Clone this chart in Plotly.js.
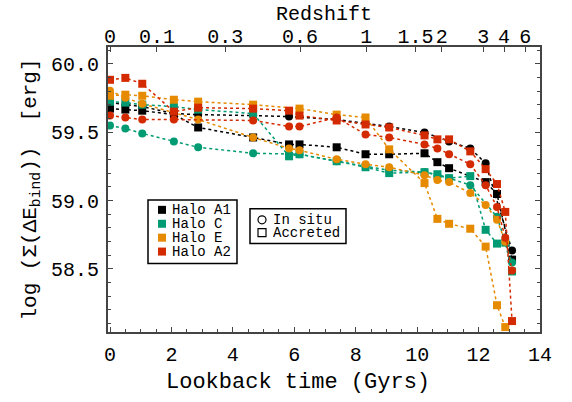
<!DOCTYPE html>
<html>
<head>
<meta charset="utf-8">
<script src="https://cdn.plot.ly/plotly-3.0.1.min.js"></script>
<style>html,body{margin:0;padding:0;background:#fff;}#chart{width:572px;height:402px;}</style>
</head>
<body>
<div id="chart"></div>
<script>
// ---- data (lookback time in Gyr, log binding energy in erg) ----
var a1InsituT = [0, 0.5, 1.05, 2.08, 2.87, 4.66, 5.83, 7.38, 8.32, 9.09, 10.24, 11.04, 11.73, 12.23, 13.09];
var a1InsituV = [59.717, 59.702, 59.688, 59.637, 59.629, 59.622, 59.615, 59.593, 59.564, 59.542, 59.499, 59.433, 59.382, 59.273, 58.634];
var a1AccT = [0, 0.5, 1.05, 2.08, 2.87, 4.66, 5.83, 6.17, 7.38, 8.32, 9.09, 10.24, 10.66, 11.04, 12.23, 12.6, 13.09];
var a1AccV = [59.673, 59.666, 59.658, 59.629, 59.535, 59.462, 59.411, 59.411, 59.390, 59.339, 59.339, 59.346, 59.281, 59.237, 59.135, 59.048, 58.568];

var cInsituT = [0, 0.5, 1.05, 2.08, 2.87, 4.66, 5.83, 6.17, 7.38, 8.32, 9.09, 10.24, 10.66, 11.04, 11.73, 12.6, 13.09];
var cInsituV = [59.549, 59.528, 59.491, 59.433, 59.390, 59.346, 59.339, 59.339, 59.288, 59.251, 59.222, 59.208, 59.186, 59.164, 59.113, 58.881, 58.547];
var cAccT = [0, 0.5, 1.05, 2.08, 2.87, 4.66, 5.83, 6.17, 7.38, 8.32, 9.09, 10.24, 10.66, 11.04, 11.73, 12.23, 12.6, 12.87, 13.09];
var cAccV = [59.724, 59.717, 59.702, 59.688, 59.666, 59.637, 59.324, 59.339, 59.288, 59.244, 59.201, 59.208, 59.193, 59.164, 59.179, 58.786, 58.685, 58.692, 58.481];

var eInsituT = [0, 0.5, 1.05, 2.87, 4.66, 5.83, 6.17, 7.38, 8.32, 9.09, 10.24, 10.66, 11.04, 11.73, 12.23, 12.6, 12.87];
var eInsituV = [59.804, 59.753, 59.709, 59.593, 59.462, 59.382, 59.368, 59.302, 59.266, 59.244, 59.186, 59.150, 59.135, 59.055, 58.968, 58.859, 58.699];
var eAccT = [0, 0.5, 1.05, 2.08, 2.87, 4.66, 6.17, 7.38, 8.32, 9.09, 10.24, 10.66, 11.04, 11.73, 12.23, 12.6, 12.87];
var eAccV = [59.767, 59.775, 59.767, 59.738, 59.724, 59.702, 59.673, 59.629, 59.608, 59.375, 59.128, 58.866, 58.830, 58.794, 58.663, 58.234, 58.074];

var a2InsituT = [0, 0.5, 1.05, 2.08, 4.66, 5.83, 6.17, 7.38, 8.32, 9.09, 10.24, 10.66, 11.04, 11.73, 12.23, 12.6, 12.87, 13.09];
var a2InsituV = [59.622, 59.608, 59.593, 59.593, 59.586, 59.542, 59.542, 59.608, 59.484, 59.462, 59.411, 59.382, 59.339, 59.266, 59.113, 58.953, 58.728, 58.488];
var a2AccT = [0, 0.5, 1.05, 2.08, 2.87, 4.66, 5.83, 6.17, 7.38, 8.32, 9.09, 10.24, 10.66, 11.04, 11.73, 12.23, 12.6, 12.87, 13.09];
var a2AccV = [59.884, 59.898, 59.855, 59.651, 59.680, 59.673, 59.658, 59.622, 59.586, 59.557, 59.535, 59.477, 59.448, 59.448, 59.360, 59.230, 59.121, 58.917, 58.118];

var haloNames = ['Halo A1', 'Halo C', 'Halo E', 'Halo A2'];
var haloColors = ['#000000', '#009B72', '#E68A00', '#D42A00'];

var xTickVals = [0, 2, 4, 6, 8, 10, 12, 14];
var zTickTimes = [0, 1.53, 3.75, 6.19, 8.34, 9.95, 10.8, 12.15, 12.83, 13.52];
var zTickText = ['0', '0.1', '0.3', '0.6', '1', '1.5', '2', '3', '4', '6'];
var yTickVals = [58.5, 59.0, 59.5, 60.0];

// ---- build ----
var FONT = '"Liberation Mono", "Courier New", monospace';
var series = [
  [a1InsituT, a1InsituV, 0, 'circle'], [a1AccT, a1AccV, 0, 'square'],
  [cInsituT, cInsituV, 1, 'circle'], [cAccT, cAccV, 1, 'square'],
  [eInsituT, eInsituV, 2, 'circle'], [eAccT, eAccV, 2, 'square'],
  [a2InsituT, a2InsituV, 3, 'circle'], [a2AccT, a2AccV, 3, 'square']
];
var traces = series.map(function (s) {
  return {
    x: s[0], y: s[1], type: 'scatter', mode: 'lines+markers',
    name: haloNames[s[2]] + (s[3] === 'circle' ? ' in situ' : ' accreted'),
    line: {color: haloColors[s[2]], width: 1.5, dash: 'dot'},
    marker: {color: haloColors[s[2]], symbol: s[3], size: 8},
    showlegend: false, hoverinfo: 'x+y'
  };
});
// invisible trace to activate the top (redshift) axis
traces.push({x: [0], y: [59], xaxis: 'x2', mode: 'markers', marker: {opacity: 0}, showlegend: false, hoverinfo: 'skip'});

var XR = [-0.065, 14];
var shapes = [], annotations = [];
// x-axis title (placed slightly left of centre, as in the reference)
annotations.push({xref: 'paper', yref: 'paper', x: 0.4387, y: -0.1777, xanchor: 'center', yanchor: 'middle',
  text: 'Lookback time (Gyrs)', showarrow: false, font: {family: FONT, size: 22, color: '#000'}});
// legend 1 (halos)
shapes.push({type: 'rect', xref: 'paper', yref: 'paper', x0: 0.0926, x1: 0.2986, y0: 0.2404, y1: 0.4634, line: {color: '#000', width: 1.5}, fillcolor: 'rgba(255,255,255,0)'});
var rowY = [0.4286, 0.3798, 0.3310, 0.2822];
haloNames.forEach(function (n, i) {
  shapes.push({type: 'rect', xref: 'paper', yref: 'paper', xsizemode: 'pixel', ysizemode: 'pixel',
    xanchor: 0.125, yanchor: rowY[i], x0: -4, x1: 4, y0: -4, y1: 4, fillcolor: haloColors[i], line: {width: 0}});
  annotations.push({xref: 'paper', yref: 'paper', x: 0.1458, y: rowY[i], xanchor: 'left', yanchor: 'middle',
    height: 13, borderpad: 0, text: n, showarrow: false, font: {family: FONT, size: 14, color: '#000'}});
});
// legend 2 (component)
shapes.push({type: 'rect', xref: 'paper', yref: 'paper', x0: 0.3287, x1: 0.5509, y0: 0.3101, y1: 0.4321, line: {color: '#000', width: 1.5}, fillcolor: 'rgba(255,255,255,0)'});
shapes.push({type: 'circle', xref: 'paper', yref: 'paper', xsizemode: 'pixel', ysizemode: 'pixel',
  xanchor: 0.3565, yanchor: 0.3937, x0: -4, x1: 4, y0: -4, y1: 4, line: {color: '#000', width: 1.2}});
shapes.push({type: 'rect', xref: 'paper', yref: 'paper', xsizemode: 'pixel', ysizemode: 'pixel',
  xanchor: 0.3565, yanchor: 0.3484, x0: -4, x1: 4, y0: -4, y1: 4, line: {color: '#000', width: 1.2}});
annotations.push({xref: 'paper', yref: 'paper', x: 0.3796, y: 0.3937, xanchor: 'left', yanchor: 'middle', height: 13, borderpad: 0, text: 'In situ', showarrow: false, font: {family: FONT, size: 14, color: '#000'}});
annotations.push({xref: 'paper', yref: 'paper', x: 0.3796, y: 0.3484, xanchor: 'left', yanchor: 'middle', height: 13, borderpad: 0, text: 'Accreted', showarrow: false, font: {family: FONT, size: 14, color: '#000'}});

function axisBase() {
  return {showgrid: false, zeroline: false, showline: true, linecolor: '#444', linewidth: 2,
    ticks: 'inside', tickcolor: '#444', tickwidth: 1, ticklen: 5,
    tickfont: {family: FONT, size: 20, color: '#000'}, automargin: true};
}

var layout = {
  width: 572, height: 402,
  margin: {l: 108, r: 32, t: 45, b: 70},
  paper_bgcolor: '#fff', plot_bgcolor: '#fff',
  font: {family: FONT, size: 20, color: '#000'},
  showlegend: false,
  xaxis: Object.assign(axisBase(), {
    range: XR, tickmode: 'array', tickvals: xTickVals, mirror: false, ticklabelstandoff: 3,
    minor: {dtick: 0.5, ticklen: 3, ticks: 'inside', tickcolor: '#444'}
  }),
  xaxis2: Object.assign(axisBase(), {
    range: XR, overlaying: 'x', side: 'top', tickmode: 'array', tickvals: zTickTimes, ticktext: zTickText,
    ticklabelstandoff: -6,
    title: {text: 'Redshift', font: {family: FONT, size: 20, color: '#000'}, standoff: 0}
  }),
  yaxis: Object.assign(axisBase(), {
    range: [58.038, 60.124], tickmode: 'array', tickvals: yTickVals, tickformat: '.1f', mirror: 'ticks',
    ticklabelstandoff: 3,
    minor: {dtick: 0.1, ticklen: 3, ticks: 'inside', tickcolor: '#444'},
    title: {text: 'log (\u03a3(\u0394E<sub>bind</sub>))\u00a0\u00a0[erg]', font: {family: FONT, size: 21, color: '#000'}, standoff: 9}
  }),
  shapes: shapes, annotations: annotations
};

Plotly.newPlot('chart', traces, layout, {displayModeBar: false, staticPlot: true});
</script>
</body>
</html>
